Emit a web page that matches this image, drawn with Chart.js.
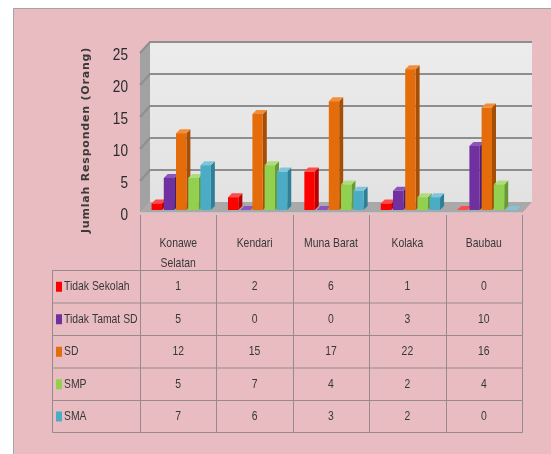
<!DOCTYPE html>
<html>
<head>
<meta charset="utf-8">
<title>Jumlah Responden</title>
<script src="https://cdn.jsdelivr.net/npm/chart.js@4/dist/chart.umd.min.js"></script>
<style>
  html, body { margin: 0; padding: 0; background: #ffffff; }
  #wrap { width: 551px; height: 454px; }
</style>
</head>
<body>
<div id="wrap"><canvas id="c" width="551" height="454"></canvas></div>
<script>
// Respondents by education level across five regions
const categories = [['Konawe', 'Selatan'], 'Kendari', 'Muna Barat', 'Kolaka', 'Baubau'];
const seriesNames = ['Tidak Sekolah', 'Tidak Tamat SD', 'SD', 'SMP', 'SMA'];
const tidakSekolah = [1, 2, 6, 1, 0];
const tidakTamatSD = [5, 0, 0, 3, 10];
const sd = [12, 15, 17, 22, 16];
const smp = [5, 7, 4, 2, 4];
const sma = [7, 6, 3, 2, 0];
const yTicks = [0, 5, 10, 15, 20, 25];
const yTitle = 'Jumlah Responden (Orang)';

const seriesValues = [tidakSekolah, tidakTamatSD, sd, smp, sma];
const frontColors = ['#ff0000', '#7030a0', '#e46c0a', '#92d050', '#4bacc6'];
const sideColors = ['#b80000', '#4a1d70', '#a44e06', '#679a35', '#2f7f96'];
const topColors = ['#ff4a4a', '#8c55bb', '#f28d3c', '#b0dd7c', '#80c6da'];

const DEPTH = { x: 4, y: -4 };      // column depth
const BACK = { x: 7, y: -8 };       // back wall offset from the bar plane
const FRONT = { x: -3, y: 3 };      // front edge offset from the bar plane
const PINK = '#e8bcc1';
const LINE = '#978a8d';
const TEXT = '#383838';
const FONT = '"Liberation Sans", Arial, sans-serif';
const SQUEEZE = 0.8;                // condensed lettering

const datasets = seriesNames.map((name, i) => ({
  label: name,
  data: seriesValues[i],
  backgroundColor: frontColors[i],
  borderWidth: 0,
  categoryPercentage: 0.8,
  barPercentage: 0.85
}));

function poly(ctx, pts, fill) {
  ctx.beginPath();
  ctx.moveTo(pts[0][0], pts[0][1]);
  for (let i = 1; i < pts.length; i++) ctx.lineTo(pts[i][0], pts[i][1]);
  ctx.closePath();
  ctx.fillStyle = fill;
  ctx.fill();
}

// text squeezed horizontally around its anchor point
function narrowText(ctx, text, x, y, align) {
  ctx.save();
  ctx.translate(x, y);
  ctx.scale(SQUEEZE, 1);
  ctx.textAlign = align;
  ctx.textBaseline = 'middle';
  ctx.fillText(text, 0, 0);
  ctx.restore();
}

const scenePlugin = {
  id: 'scene3d',
  beforeDraw(chart) {
    const ctx = chart.ctx;
    const W = chart.width, H = chart.height;
    ctx.save();
    ctx.fillStyle = '#ffffff';
    ctx.fillRect(0, 0, W, H);
    ctx.fillStyle = PINK;
    ctx.fillRect(13, 8, W - 13, H - 8);
    ctx.strokeStyle = '#a4a4a4';
    ctx.lineWidth = 1;
    ctx.beginPath();
    ctx.moveTo(13.5, H);
    ctx.lineTo(13.5, 8.5);
    ctx.lineTo(W, 8.5);
    ctx.stroke();

    const a = chart.chartArea;
    const y = chart.scales.y;
    const bl = a.left + BACK.x, br = a.right + BACK.x;
    const bt = a.top + BACK.y, bb = a.bottom + BACK.y;
    const fl = a.left + FRONT.x, fr = a.right + FRONT.x;
    const ft = a.top + FRONT.y, fb = a.bottom + FRONT.y;

    // back wall
    const g = ctx.createLinearGradient(0, bt, 0, bb);
    g.addColorStop(0, '#ececec');
    g.addColorStop(1, '#e2e2e2');
    ctx.fillStyle = g;
    ctx.fillRect(bl, bt, br - bl, bb - bt);
    // side wall
    poly(ctx, [[fl, fb], [fl, ft], [bl, bt], [bl, bb]], '#a2a2a2');
    // floor
    poly(ctx, [[fl, fb], [bl, bb], [br, bb], [fr, fb]], '#a9a9a9');
    ctx.strokeStyle = '#c4c4c4';
    ctx.lineWidth = 1;
    ctx.beginPath();
    ctx.moveTo(fl, fb - 0.5);
    ctx.lineTo(fr, fb - 0.5);
    ctx.stroke();

    // gridlines on side and back walls
    ctx.strokeStyle = '#8e8e8e';
    ctx.lineWidth = 2;
    y.ticks.forEach(t => {
      if (t.value === 0) return;
      const p = y.getPixelForValue(t.value);
      ctx.beginPath();
      ctx.moveTo(fl, p + FRONT.y);
      ctx.lineTo(bl, p + BACK.y);
      ctx.lineTo(br, p + BACK.y);
      ctx.stroke();
    });

    // value axis labels
    ctx.font = '17px ' + FONT;
    ctx.fillStyle = '#2a2a2a';
    y.ticks.forEach(t => {
      narrowText(ctx, String(t.value), 128, y.getPixelForValue(t.value) + 5, 'right');
    });

    // axis title
    ctx.save();
    ctx.translate(86, 140);
    ctx.rotate(-Math.PI / 2);
    ctx.font = 'bold 11px "DejaVu Sans", sans-serif';
    ctx.letterSpacing = '0.8px';
    ctx.fillStyle = '#3a3a3a';
    ctx.textAlign = 'center';
    ctx.textBaseline = 'middle';
    ctx.fillText(yTitle, 0, 0);
    ctx.restore();
    ctx.restore();
  },
  beforeDatasetsDraw(chart) {
    // columns: side, top and front faces, series by series from left to right
    const ctx = chart.ctx;
    ctx.save();
    chart.data.datasets.forEach((ds, i) => {
      const meta = chart.getDatasetMeta(i);
      meta.data.forEach(bar => {
        const p = bar.getProps(['x', 'y', 'base', 'width'], true);
        const l = p.x - p.width / 2, r = p.x + p.width / 2;
        poly(ctx, [[r, p.y], [r + DEPTH.x, p.y + DEPTH.y], [r + DEPTH.x, p.base + DEPTH.y], [r, p.base]], sideColors[i]);
        poly(ctx, [[l, p.y], [l + DEPTH.x, p.y + DEPTH.y], [r + DEPTH.x, p.y + DEPTH.y], [r, p.y]], topColors[i]);
        ctx.fillStyle = frontColors[i];
        ctx.fillRect(l, p.y, r - l, p.base - p.y);
      });
    });
    ctx.restore();
    return false;
  },
  afterDraw(chart) {
    // data table beneath the plot
    const ctx = chart.ctx;
    const x = chart.scales.x;
    const a = chart.chartArea;
    const step = (a.right - a.left) / categories.length;
    const colEdges = [];
    for (let k = 0; k <= categories.length; k++) colEdges.push(Math.round(a.left + FRONT.x + k * step) + 0.5);
    const tableTop = a.bottom + FRONT.y + 2;
    const rowEdges = [270, 302.5, 335, 367.5, 400, 432].map(v => v + 0.5);
    const legendLeft = 52.5;

    ctx.save();
    ctx.strokeStyle = LINE;
    ctx.lineWidth = 1;
    ctx.beginPath();
    colEdges.forEach(cx => { ctx.moveTo(cx, tableTop); ctx.lineTo(cx, rowEdges[rowEdges.length - 1]); });
    ctx.moveTo(legendLeft, rowEdges[0]);
    ctx.lineTo(legendLeft, rowEdges[rowEdges.length - 1]);
    rowEdges.forEach(ry => { ctx.moveTo(legendLeft, ry); ctx.lineTo(colEdges[colEdges.length - 1], ry); });
    ctx.stroke();

    ctx.font = '13px ' + FONT;
    ctx.fillStyle = TEXT;
    categories.forEach((c, k) => {
      const cx = x.getPixelForValue(k) + FRONT.x;
      const lines = Array.isArray(c) ? c : [c];
      lines.forEach((t, j) => narrowText(ctx, t, cx, 243 + j * 20, 'center'));
    });

    seriesNames.forEach((name, i) => {
      const cy = (rowEdges[i] + rowEdges[i + 1]) / 2;
      ctx.fillStyle = frontColors[i];
      ctx.fillRect(56, cy - 5, 6, 10);
      ctx.fillStyle = TEXT;
      narrowText(ctx, name, 64, cy, 'left');
      seriesValues[i].forEach((v, k) => {
        narrowText(ctx, String(v), x.getPixelForValue(k) + FRONT.x, cy, 'center');
      });
    });
    ctx.restore();
  }
};

new Chart(document.getElementById('c'), {
  type: 'bar',
  data: { labels: categories, datasets: datasets },
  options: {
    responsive: false,
    animation: false,
    events: [],
    layout: { padding: { left: 0, right: 26, top: 50, bottom: 244 } },
    plugins: { legend: { display: false }, tooltip: { enabled: false } },
    scales: {
      x: { display: false },
      y: {
        min: 0,
        max: 25,
        afterFit(scale) { scale.width = 143; },
        afterBuildTicks(scale) { scale.ticks = yTicks.map(v => ({ value: v })); },
        grid: { display: false, drawTicks: false },
        border: { display: false },
        ticks: { display: false }
      }
    }
  },
  plugins: [scenePlugin]
});
</script>
</body>
</html>
